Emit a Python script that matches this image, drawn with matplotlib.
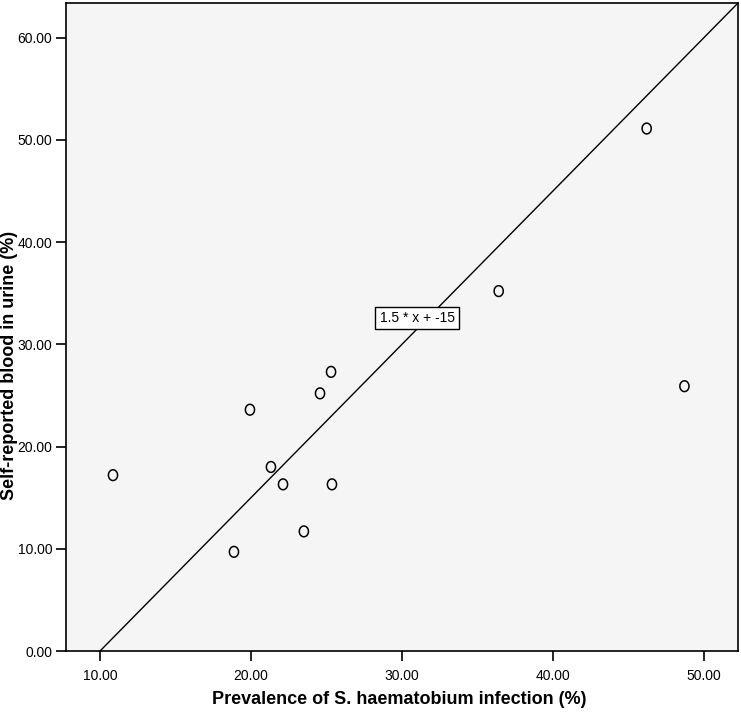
import matplotlib.pyplot as plt
import numpy as np
from matplotlib.path import Path

# Data (prevalence vs self-reported blood in urine)
prevalence = [10.86, 18.87, 19.93, 21.32, 22.12, 23.50, 24.57, 25.30, 25.36, 36.40, 46.20, 48.70]
blood_urine = [17.2, 9.7, 23.6, 18.0, 16.3, 11.7, 25.2, 27.3, 16.3, 35.2, 51.1, 25.9]
x_ticks = [10, 20, 30, 40, 50]
y_ticks = [0, 10, 20, 30, 40, 50, 60]
fit_slope, fit_intercept = 1.5, -15

plt.rcParams['font.family'] = ['Liberation Sans', 'DejaVu Sans']

fig = plt.figure(figsize=(7.41, 7.14), dpi=100)
ax = fig.add_axes([0.0891, 0.0882, 0.9069, 0.9076])
ax.set_facecolor('#f5f5f5')

x_min, x_max = 7.75, 52.25
y_min, y_max = 0, fit_slope * x_max + fit_intercept

# Reference line
line_x = np.array([(y_min - fit_intercept) / fit_slope, x_max])
ax.plot(line_x, fit_slope * line_x + fit_intercept, color='black', lw=1.0, zorder=2)

# slightly tall open circle, like the SPSS marker
theta = np.linspace(0, 2 * np.pi, 60)
ellipse = Path(np.column_stack([0.85 * np.cos(theta), np.sin(theta)]), closed=True)

ax.scatter(prevalence, blood_urine, s=60, marker=ellipse, facecolors='none',
           edgecolors='black', linewidths=1.1, zorder=3)

ax.text(31.0, 32.57, '1.5 * x + -15', ha='center', va='center', fontsize=10,
        bbox=dict(boxstyle='square,pad=0.3', facecolor='white', edgecolor='black', lw=1.0),
        zorder=4)

ax.set_xlim(x_min, x_max)
ax.set_ylim(y_min, y_max)
ax.set_xticks(x_ticks)
ax.set_yticks(y_ticks)
ax.set_xticklabels([f'{v:.2f}' for v in x_ticks], fontsize=10)
ax.set_yticklabels([f'{v:.2f}' for v in y_ticks], fontsize=10)
ax.tick_params(axis='x', direction='out', length=7, width=1.2, color='black', pad=6)
ax.tick_params(axis='y', direction='out', length=7, width=1.2, color='black', pad=3)

for spine in ax.spines.values():
    spine.set_linewidth(1.2)

ax.set_xlabel('Prevalence of S. haematobium infection (%)', fontsize=13, fontweight='bold')
ax.set_ylabel('Self-reported blood in urine (%)', fontsize=13, fontweight='bold')
ax.xaxis.set_label_coords(0.496, -0.061)
ax.yaxis.set_label_coords(-0.072, 0.44)

fig.savefig('out.png', dpi=100)
